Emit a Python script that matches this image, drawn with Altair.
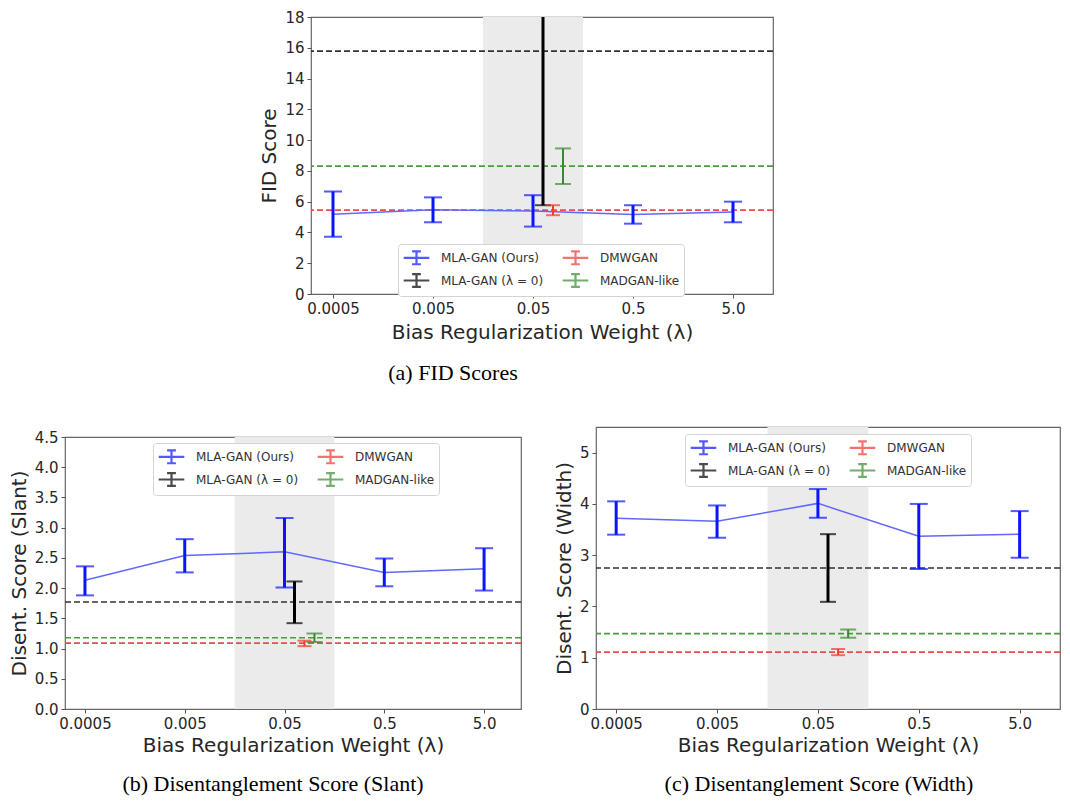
import json
import altair as alt
import pandas as pd

# ---------------- data ----------------
LAMBDAS = ["0.0005", "0.005", "0.05", "0.5", "5.0"]
SERIES = ["MLA-GAN (Ours)", "MLA-GAN (λ = 0)", "DMWGAN", "MADGAN-like"]
SERIES_COLORS = ["#0a14ff", "#000000", "#ee3a33", "#398a2f"]

BASE_NAMES = ["MLA-GAN (λ = 0)", "DMWGAN", "MADGAN-like"]
BASE_X = [2.1, 2.2, 2.3]          # x position of the baseline error bars
BASE_DASH = ["#333333", "#f04a4a", "#4c9a40"]
BASE_WIDTH = [3, 2, 2]
BASE_CAP = [16, 14, 16]

# (a) FID scores
fid_mean = [5.19, 5.47, 5.40, 5.17, 5.33]
fid_lo = [3.72, 4.66, 4.38, 4.57, 4.66]
fid_hi = [6.66, 6.28, 6.42, 5.77, 6.00]
fid_base_mean = [15.78, 5.45, 8.31]
fid_base_lo = [5.77, 5.12, 7.15]
fid_base_hi = [25.79, 5.77, 9.46]

# (b) Disentanglement score (slant)
sl_mean = [2.13, 2.54, 2.60, 2.26, 2.32]
sl_lo = [1.88, 2.26, 2.01, 2.03, 1.96]
sl_hi = [2.36, 2.81, 3.16, 2.49, 2.66]
sl_base_mean = [1.77, 1.09, 1.18]
sl_base_lo = [1.42, 1.04, 1.11]
sl_base_hi = [2.11, 1.13, 1.25]

# (c) Disentanglement score (width)
wd_mean = [3.72, 3.66, 4.01, 3.37, 3.41]
wd_lo = [3.40, 3.34, 3.73, 2.73, 2.95]
wd_hi = [4.05, 3.97, 4.29, 4.00, 3.86]
wd_base_mean = [2.75, 1.11, 1.47]
wd_base_lo = [2.09, 1.05, 1.39]
wd_base_hi = [3.41, 1.17, 1.55]

BAND = [1.5, 2.5]
XTITLE = "Bias Regularization Weight (λ)"
LEGEND_PATH = "M-1.6,0H1.6M0,-0.8V0.8M-0.55,-0.8H0.55M-0.55,0.8H0.55"
FONT = "DejaVu Sans"


def panel(mean, lo, hi, bmean, blo, bhi, ytitle, ydom, yvals, yfmt,
          width, height, xdom, legend_xy, caption, cap_dx, xtitle_pad, cap_off):
    rows = []
    for i in range(len(LAMBDAS)):
        rows.append(dict(x=i, series=SERIES[0], m=mean[i], lo=lo[i], hi=hi[i],
                         w=3, cap=18, col=SERIES_COLORS[0]))
    for j, name in enumerate(BASE_NAMES):
        rows.append(dict(x=BASE_X[j], series=name, m=bmean[j], lo=blo[j], hi=bhi[j],
                         w=BASE_WIDTH[j], cap=BASE_CAP[j],
                         col=SERIES_COLORS[SERIES.index(name)]))
    err = pd.DataFrame(rows)
    ours = err[err.series == SERIES[0]]
    dash = pd.DataFrame({"m": bmean, "col": BASE_DASH})
    band = pd.DataFrame({"x0": [BAND[0]], "x1": [BAND[1]]})

    xs = alt.Scale(domain=xdom, nice=False, zero=False)
    ys = alt.Scale(domain=ydom, nice=False, zero=False)
    xaxis = alt.Axis(values=list(range(len(LAMBDAS))), title=XTITLE,
                     titlePadding=xtitle_pad,
                     labelExpr=json.dumps(LAMBDAS) + "[datum.value]")
    yaxis = alt.Axis(values=yvals, format=yfmt, title=ytitle)

    band_l = alt.Chart(band).mark_rect(color="#ebebeb").encode(
        x=alt.X("x0:Q", scale=xs, axis=xaxis), x2="x1:Q",
        y=alt.value(0), y2=alt.value(height))
    dash_l = alt.Chart(dash).mark_rule(strokeDash=[6, 3], strokeWidth=1.6).encode(
        y=alt.Y("m:Q", scale=ys, axis=yaxis),
        color=alt.Color("col:N", scale=None))
    line_l = alt.Chart(ours).mark_line(color="#6068ff", strokeWidth=1.5).encode(
        x=alt.X("x:Q", scale=xs, axis=xaxis),
        y=alt.Y("m:Q", scale=ys, axis=yaxis))
    bar_l = alt.Chart(err).mark_rule(clip=True).encode(
        x=alt.X("x:Q", scale=xs, axis=xaxis),
        y=alt.Y("lo:Q", scale=ys, axis=yaxis), y2="hi:Q",
        strokeWidth=alt.StrokeWidth("w:Q", scale=None, legend=None),
        color=alt.Color("series:N", scale=alt.Scale(domain=SERIES, range=SERIES_COLORS),
                        legend=alt.Legend(
                            title=None, orient="none", legendX=legend_xy[0],
                            legendY=legend_xy[1], columns=2, symbolType=LEGEND_PATH,
                            symbolSize=256, symbolStrokeWidth=2.2, symbolOpacity=1,
                            symbolOffset=5, labelFont=FONT, labelFontSize=12,
                            labelColor="#333333", fillColor="white",
                            strokeColor="#d4d4d4", cornerRadius=3, padding=4,
                            columnPadding=14, rowPadding=0, labelOffset=15)))
    cap_rows = pd.concat([err.assign(v=err.lo), err.assign(v=err.hi)])
    cap_l = alt.Chart(cap_rows).mark_tick(orient="horizontal", thickness=2, clip=True).encode(
        x=alt.X("x:Q", scale=xs, axis=xaxis),
        y=alt.Y("v:Q", scale=ys, axis=yaxis),
        size=alt.Size("cap:Q", scale=None, legend=None),
        color=alt.Color("col:N", scale=None))

    return alt.layer(band_l, dash_l, line_l, bar_l, cap_l).properties(
        width=width, height=height,
        title=alt.TitleParams(caption, orient="bottom", font="Liberation Serif",
                              fontSize=22, fontWeight="normal", color="black",
                              frame="group", anchor="middle", dx=cap_dx, offset=cap_off))


def spacer(w, h):
    return alt.Chart(pd.DataFrame({"a": [0]})).mark_rect(opacity=0).encode(
        x=alt.value(0), x2=alt.value(w), y=alt.value(0), y2=alt.value(h)
    ).properties(width=w, height=h, view=alt.ViewConfig(stroke="transparent"))


top = panel(fid_mean, fid_lo, fid_hi, fid_base_mean, fid_base_lo, fid_base_hi,
            "FID Score", [0, 18], list(range(0, 19, 2)), "d",
            462, 277, [-0.22, 4.4], (87, 227), "(a) FID Scores", -89, 6, 21)
left = panel(sl_mean, sl_lo, sl_hi, sl_base_mean, sl_base_lo, sl_base_hi,
             "Disent. Score (Slant)", [0, 4.5], [i * 0.5 for i in range(10)], ".1f",
             456, 272, [-0.2, 4.37], (88, 6), "(b) Disentanglement Score (Slant)", -20, 4, 19)
right = panel(wd_mean, wd_lo, wd_hi, wd_base_mean, wd_base_lo, wd_base_hi,
              "Disent. Score (Width)", [0, 5.5], [0, 1, 2, 3, 4, 5], "d",
              464, 282, [-0.2, 4.4], (89, 7), "(c) Disentanglement Score (Width)", -9, 4, 19)

top_row = alt.hconcat(spacer(193, 1), top, spacing=0).resolve_legend(
    color="independent").resolve_scale(color="independent")
left_col = alt.vconcat(spacer(1, 1), left, spacing=0).resolve_legend(
    color="independent").resolve_scale(color="independent")
bottom_row = alt.hconcat(left_col, right, spacing=30).resolve_legend(
    color="independent").resolve_scale(color="independent")

chart = alt.vconcat(top_row, bottom_row, spacing=41).resolve_legend(
    color="independent").resolve_scale(color="independent").properties(
    padding={"left": 0, "top": 1, "right": 0, "bottom": 0}
).configure_view(
    stroke="#666666", strokeWidth=1.2
).configure_axis(
    labelFont=FONT, labelFontSize=15, labelColor="#262626",
    titleFont=FONT, titleFontSize=20, titleFontWeight="normal", titleColor="#262626",
    tickColor="#555555", tickSize=4, labelPadding=3, domain=False, grid=False
).configure_axisY(titlePadding=5)

chart.save("out.html", embed_options={"renderer": "svg", "actions": False})
